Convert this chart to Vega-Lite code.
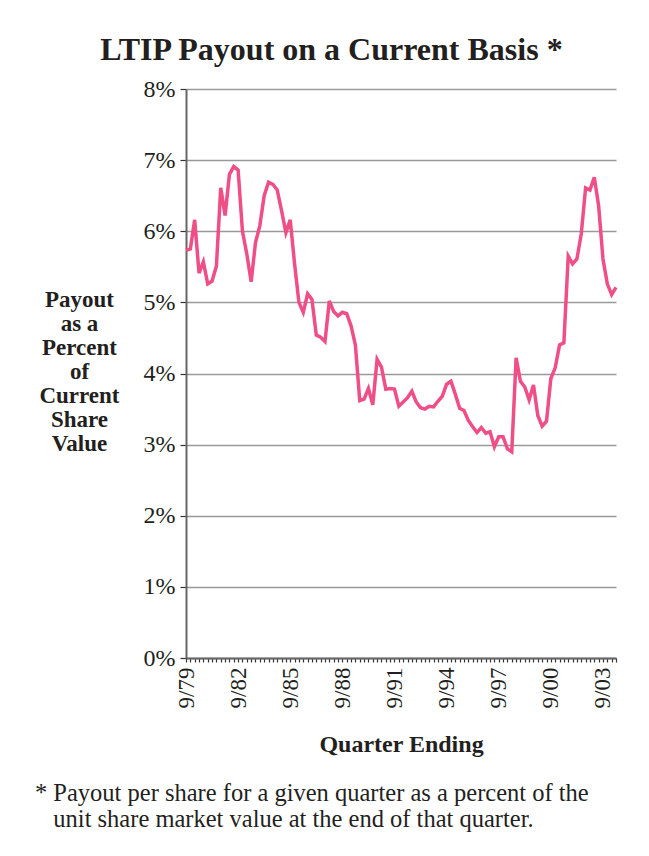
{
  "$schema": "https://vega.github.io/schema/vega-lite/v6.json",
  "background": "white",
  "padding": {"left": 34, "top": 34, "right": 20, "bottom": 0},
  "title": {
    "text": "LTIP Payout on a Current Basis *",
    "font": "Liberation Serif",
    "fontSize": 32,
    "fontWeight": "bold",
    "color": "#231f20",
    "anchor": "middle",
    "offset": 10
  },
  "config": {
    "view": {"stroke": null},
    "font": "Liberation Serif"
  },
  "vconcat": [
    {
      "width": 430,
      "height": 569,
      "title": {
        "text": [
          "* Payout per share for a given quarter as a percent of the",
          "\u200b\u00a0\u00a0\u00a0unit share market value at the end of that quarter."
        ],
        "orient": "bottom",
        "anchor": "start",
        "frame": "bounds",
        "font": "Liberation Serif",
        "fontSize": 24.5,
        "fontWeight": "normal",
        "color": "#231f20",
        "lineHeight": 26,
        "offset": 25,
        "dx": -4
      },
      "data": {
        "values": [
          {"quarter": "9/79", "payout": 5.73},
          {"quarter": "12/79", "payout": 5.75},
          {"quarter": "3/80", "payout": 6.16},
          {"quarter": "6/80", "payout": 5.41},
          {"quarter": "9/80", "payout": 5.57},
          {"quarter": "12/80", "payout": 5.26},
          {"quarter": "3/81", "payout": 5.30},
          {"quarter": "6/81", "payout": 5.51},
          {"quarter": "9/81", "payout": 6.61},
          {"quarter": "12/81", "payout": 6.22},
          {"quarter": "3/82", "payout": 6.80},
          {"quarter": "6/82", "payout": 6.91},
          {"quarter": "9/82", "payout": 6.86},
          {"quarter": "12/82", "payout": 6.00},
          {"quarter": "3/83", "payout": 5.68},
          {"quarter": "6/83", "payout": 5.29},
          {"quarter": "9/83", "payout": 5.84},
          {"quarter": "12/83", "payout": 6.08},
          {"quarter": "3/84", "payout": 6.50},
          {"quarter": "6/84", "payout": 6.69},
          {"quarter": "9/84", "payout": 6.66},
          {"quarter": "12/84", "payout": 6.58},
          {"quarter": "3/85", "payout": 6.29},
          {"quarter": "6/85", "payout": 5.98},
          {"quarter": "9/85", "payout": 6.16},
          {"quarter": "12/85", "payout": 5.54},
          {"quarter": "3/86", "payout": 5.00},
          {"quarter": "6/86", "payout": 4.86},
          {"quarter": "9/86", "payout": 5.12},
          {"quarter": "12/86", "payout": 5.04},
          {"quarter": "3/87", "payout": 4.54},
          {"quarter": "6/87", "payout": 4.51},
          {"quarter": "9/87", "payout": 4.45},
          {"quarter": "12/87", "payout": 5.02},
          {"quarter": "3/88", "payout": 4.87},
          {"quarter": "6/88", "payout": 4.81},
          {"quarter": "9/88", "payout": 4.86},
          {"quarter": "12/88", "payout": 4.84},
          {"quarter": "3/89", "payout": 4.67},
          {"quarter": "6/89", "payout": 4.40},
          {"quarter": "9/89", "payout": 3.62},
          {"quarter": "12/89", "payout": 3.64},
          {"quarter": "3/90", "payout": 3.79},
          {"quarter": "6/90", "payout": 3.56},
          {"quarter": "9/90", "payout": 4.20},
          {"quarter": "12/90", "payout": 4.09},
          {"quarter": "3/91", "payout": 3.78},
          {"quarter": "6/91", "payout": 3.79},
          {"quarter": "9/91", "payout": 3.78},
          {"quarter": "12/91", "payout": 3.54},
          {"quarter": "3/92", "payout": 3.60},
          {"quarter": "6/92", "payout": 3.66},
          {"quarter": "9/92", "payout": 3.75},
          {"quarter": "12/92", "payout": 3.60},
          {"quarter": "3/93", "payout": 3.52},
          {"quarter": "6/93", "payout": 3.50},
          {"quarter": "9/93", "payout": 3.54},
          {"quarter": "12/93", "payout": 3.53},
          {"quarter": "3/94", "payout": 3.61},
          {"quarter": "6/94", "payout": 3.68},
          {"quarter": "9/94", "payout": 3.85},
          {"quarter": "12/94", "payout": 3.89},
          {"quarter": "3/95", "payout": 3.71},
          {"quarter": "6/95", "payout": 3.51},
          {"quarter": "9/95", "payout": 3.48},
          {"quarter": "12/95", "payout": 3.34},
          {"quarter": "3/96", "payout": 3.25},
          {"quarter": "6/96", "payout": 3.17},
          {"quarter": "9/96", "payout": 3.24},
          {"quarter": "12/96", "payout": 3.16},
          {"quarter": "3/97", "payout": 3.18},
          {"quarter": "6/97", "payout": 2.97},
          {"quarter": "9/97", "payout": 3.11},
          {"quarter": "12/97", "payout": 3.11},
          {"quarter": "3/98", "payout": 2.94},
          {"quarter": "6/98", "payout": 2.90},
          {"quarter": "9/98", "payout": 4.22},
          {"quarter": "12/98", "payout": 3.89},
          {"quarter": "3/99", "payout": 3.81},
          {"quarter": "6/99", "payout": 3.63},
          {"quarter": "9/99", "payout": 3.84},
          {"quarter": "12/99", "payout": 3.41},
          {"quarter": "3/00", "payout": 3.26},
          {"quarter": "6/00", "payout": 3.33},
          {"quarter": "9/00", "payout": 3.93},
          {"quarter": "12/00", "payout": 4.08},
          {"quarter": "3/01", "payout": 4.40},
          {"quarter": "6/01", "payout": 4.43},
          {"quarter": "9/01", "payout": 5.65},
          {"quarter": "12/01", "payout": 5.54},
          {"quarter": "3/02", "payout": 5.61},
          {"quarter": "6/02", "payout": 5.96},
          {"quarter": "9/02", "payout": 6.61},
          {"quarter": "12/02", "payout": 6.58},
          {"quarter": "3/03", "payout": 6.76},
          {"quarter": "6/03", "payout": 6.36},
          {"quarter": "9/03", "payout": 5.61},
          {"quarter": "12/03", "payout": 5.26},
          {"quarter": "3/04", "payout": 5.11},
          {"quarter": "6/04", "payout": 5.21}
        ]
      },
      "mark": {"type": "line", "color": "#ef4f86", "strokeWidth": 3.5},
      "encoding": {
        "x": {
          "field": "quarter",
          "type": "ordinal",
          "sort": null,
          "scale": {"type": "point", "padding": 0},
          "axis": {
            "title": "Quarter Ending",
            "titleFont": "Liberation Serif",
            "titleFontSize": 24,
            "titleFontWeight": "bold",
            "titleColor": "#231f20",
            "titlePadding": 25,
            "labelAngle": -90,
            "labelFont": "Liberation Serif",
            "labelFontSize": 23,
            "labelColor": "#231f20",
            "labelPadding": 5,
            "labelOverlap": false,
            "labelExpr": "indexof(['9/79','9/82','9/85','9/88','9/91','9/94','9/97','9/00','9/03'], datum.value) >= 0 ? datum.value : ''",
            "ticks": true,
            "tickSize": 4,
            "tickWidth": 1.2,
            "tickColor": "#333333",
            "domainColor": "#666666",
            "domainWidth": 2,
            "grid": false
          }
        },
        "y": {
          "field": "payout",
          "type": "quantitative",
          "scale": {"domain": [0, 8], "nice": false},
          "axis": {
            "values": [0, 1, 2, 3, 4, 5, 6, 7, 8],
            "labelExpr": "datum.value + '%'",
            "labelFont": "Liberation Serif",
            "labelFontSize": 24,
            "labelColor": "#231f20",
            "labelPadding": 5,
            "title": ["Payout", "as a", "Percent", "of", "Current", "Share", "Value"],
            "titleFont": "Liberation Serif",
            "titleFontSize": 23,
            "titleFontWeight": "bold",
            "titleColor": "#231f20",
            "titleAngle": 0,
            "titleAlign": "center",
            "titleBaseline": "middle",
            "titleLineHeight": 24,
            "titleX": -107,
            "titleY": 210,
            "tickSize": 6,
            "tickWidth": 1.2,
            "tickColor": "#333333",
            "domainColor": "#666666",
            "domainWidth": 2,
            "grid": true,
            "gridColor": "#999999",
            "gridWidth": 1.5
          }
        }
      }
    }
  ]
}
